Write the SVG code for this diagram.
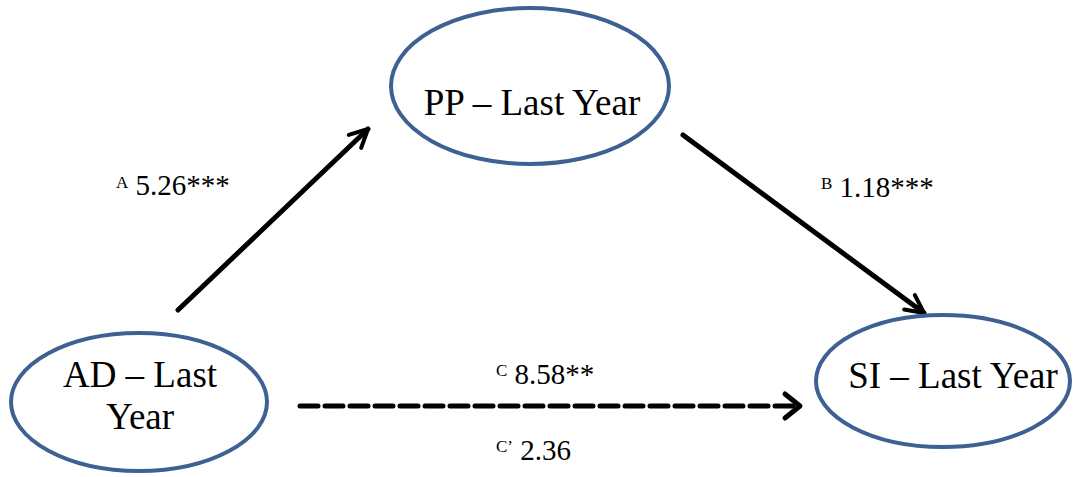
<svg xmlns="http://www.w3.org/2000/svg" width="1073" height="477" viewBox="0 0 1073 477">
<defs>
<style>
.node{fill:#fff;stroke:#3d6191;stroke-width:4}
.lbl{font-family:"Liberation Serif",serif;font-size:37px;fill:#000;text-anchor:middle}
.coef{font-family:"Liberation Serif",serif;font-size:29px;fill:#000}
.sup{font-size:17px}
.edge{stroke:#000;stroke-width:5;fill:none;stroke-linecap:round}
.head{stroke:#000;stroke-width:5;fill:none;stroke-linecap:round;stroke-linejoin:round}
</style>
<marker id="arr" viewBox="0 0 10 10" refX="9" refY="5" markerWidth="4.5" markerHeight="4.5" orient="auto" markerUnits="strokeWidth">
<path d="M1,1 L9,5 L1,9" fill="none" stroke="#000" stroke-width="1.8" stroke-linecap="round" stroke-linejoin="round"/>
</marker>
</defs>
<rect width="1073" height="477" fill="#fff"/>
<g id="connectors">
<line class="edge" x1="178" y1="310" x2="368" y2="129" marker-end="url(#arr)"/>
<line class="edge" x1="683" y1="135" x2="924" y2="313" marker-end="url(#arr)"/>
<line class="edge" x1="300" y1="406" x2="798" y2="406" stroke-dasharray="18 7" stroke-linecap="butt"/>
<path class="head" d="M785,394 L800,406 L785,418"/>
</g>
<g id="node-pp">
<ellipse class="node" cx="530" cy="86" rx="139" ry="78"/>
<text class="lbl" x="532" y="115">PP – Last Year</text>
</g>
<g id="node-ad">
<ellipse class="node" cx="139" cy="402" rx="128" ry="69"/>
<text class="lbl" x="140" y="387">AD – Last</text>
<text class="lbl" x="140" y="429">Year</text>
</g>
<g id="node-si">
<ellipse class="node" cx="943" cy="381" rx="127" ry="66"/>
<text class="lbl" x="953" y="388">SI – Last Year</text>
</g>
<g id="labels">
<text class="coef" x="116" y="195"><tspan class="sup" dy="-7">A</tspan><tspan dy="7"> 5.26***</tspan></text>
<text class="coef" x="821" y="197"><tspan class="sup" dy="-8">B</tspan><tspan dy="8"> 1.18***</tspan></text>
<text class="coef" x="496" y="384"><tspan class="sup" dy="-8">C</tspan><tspan dy="8"> 8.58**</tspan></text>
<text class="coef" x="496" y="460"><tspan class="sup" dy="-8">C’</tspan><tspan dy="8"> 2.36</tspan></text>
</g>
</svg>
